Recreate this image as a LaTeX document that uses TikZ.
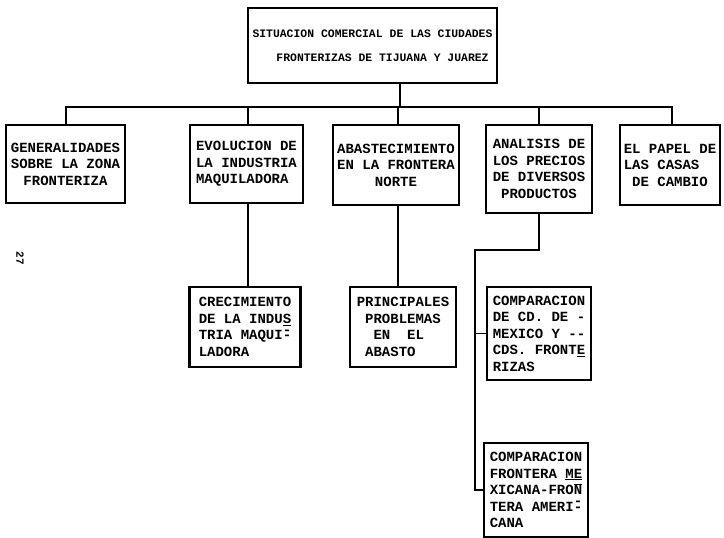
\documentclass[tikz,border=0pt]{standalone}
\usepackage{fontspec}
\setmonofont{Liberation Mono}
\newcommand\uln[1]{\underline{#1}}
\newcommand\ovl[1]{\(\overline{\hbox{#1}}\)}
\newcommand\ovh{\rlap{\raisebox{0.4em}{-}}-}
\newcommand\hs[1]{\hspace*{#1\dimexpr0.6em\relax}}
\begin{document}
\begin{tikzpicture}[x=1pt,y=-1pt,
  box/.style={draw, line width=2.2pt, inner sep=0pt,
    font=\ttfamily\bfseries\fontsize{14}{16.5}\selectfont},
  conn/.style={line width=1.9pt}]
\useasboundingbox[fill=white] (0,0) rectangle (724,538);

\node[box, font=\ttfamily\bfseries\fontsize{11.4}{24}\selectfont, align=left,
  minimum width=249pt, minimum height=75pt] (top) at (372.5,45.5)
  {SITUACION\hspace{7pt}COMERCIAL\hspace{7pt}DE\hspace{7pt}LAS CIUDADES\\\hs{3.5}FRONTERIZAS DE TIJUANA Y JUAREZ};

\node[box, align=center, minimum width=119pt, minimum height=78pt] (gen) at (65.5,164)
  {GENERALIDADES\\SOBRE LA ZONA\\FRONTERIZA};
\node[box, align=left, minimum width=113pt, minimum height=78pt] (evo) at (246.5,164)
  {EVOLUCION DE\\LA INDUSTRIA\\MAQUILADORA};
\node[box, align=center, minimum width=126pt, minimum height=80pt] (aba) at (396,165)
  {ABASTECIMIENTO\\EN LA FRONTERA\\NORTE};
\node[box, align=center, minimum width=106pt, minimum height=88pt] (ana) at (539,169)
  {ANALISIS DE\\LOS PRECIOS\\DE DIVERSOS\\PRODUCTOS};
\node[box, align=left, minimum width=100pt, minimum height=80pt] (pap) at (670,165)
  {EL PAPEL DE\\LAS CASAS\\\hs{1}DE CAMBIO};

\node[box, align=left, minimum width=111pt, minimum height=80pt] (cre) at (245,327)
  {CRECIMIENTO\\DE LA INDU\uln{S}\\TRIA MAQUI\ovh\\LADORA};
\node[box, align=left, minimum width=106pt, minimum height=80pt] (pri) at (403,327)
  {PRINCIPALES\\\hs{1}PROBLEMAS\\\hs{2}EN~~EL\\\hs{1}ABASTO};
\node[box, align=left, minimum width=104pt, minimum height=93pt] (c1) at (539,333.5)
  {COMPARACION\\DE CD. DE -\\MEXICO Y --\\CDS. FRONT\uln{E}\\RIZAS};
\node[box, align=left, minimum width=104pt, minimum height=94pt] (c2) at (536,490)
  {COMPARACION\\FRONTERA \uln{ME}\\XICANA-FRO\ovl{N}\\TERA AMERI\ovh\\CANA};

\node[font=\ttfamily\bfseries\fontsize{11}{11}\selectfont, rotate=-90, inner sep=0pt]
  (pg) at (20,258) {27};

\coordinate (b0) at (400,107);
\coordinate (s1) at (66,107);
\coordinate (s2) at (248,107);
\coordinate (s3) at (398,107);
\coordinate (s5) at (672,107);
\coordinate (j1) at (475,250);
\coordinate (j2) at (475,490);

\draw[conn] (b0 |- top.south) -- (b0);
\draw[conn] (s1 |- gen.north) -- (s1) -- (s5) -- (s5 |- pap.north);
\draw[conn] (s2) -- (s2 |- evo.north);
\draw[conn] (s3) -- (s3 |- aba.north);
\draw[conn] (ana.north |- b0) -- (ana.north);
\draw[conn] (s2 |- evo.south) -- (s2 |- cre.north);
\draw[conn] (s3 |- aba.south) -- (s3 |- pri.north);
\draw[conn] (ana.south) |- (j1) -- (j2) -- (c2.west);
\draw[conn] (j1 |- c1.west) -- (c1.west);
\end{tikzpicture}
\end{document}
